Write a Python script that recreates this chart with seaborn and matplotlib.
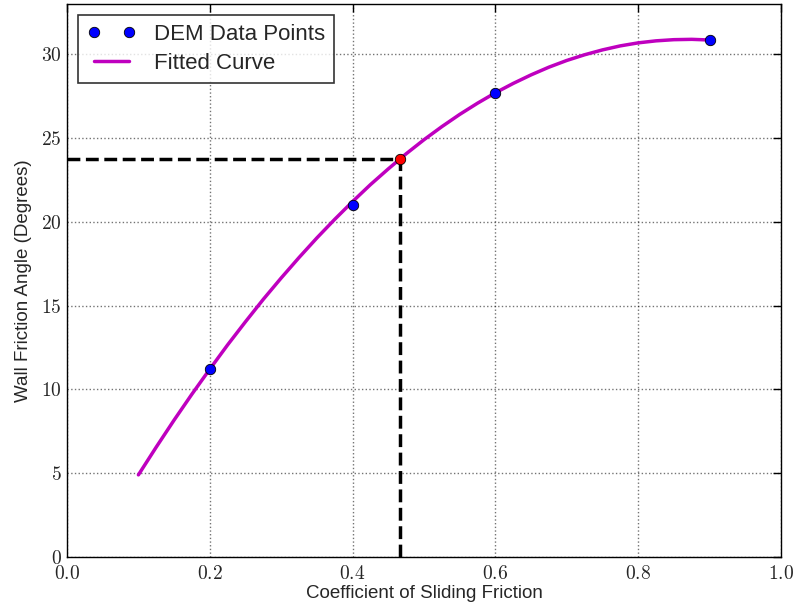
"""Wall friction angle vs coefficient of sliding friction."""

import matplotlib
matplotlib.use("Agg")
import matplotlib.pyplot as plt
from matplotlib.ticker import FuncFormatter, MultipleLocator
import pandas as pd
import seaborn as sns

# DEM simulation results
dem_mu = [0.2, 0.4, 0.6, 0.9]
dem_angle = [11.2, 21.0, 27.7, 30.85]

# fitted curve
fit_mu = [0.100, 0.125, 0.150, 0.175, 0.200, 0.225, 0.250, 0.275, 0.300,
          0.325, 0.350, 0.375, 0.400, 0.425, 0.450, 0.475, 0.500, 0.525,
          0.550, 0.575, 0.600, 0.625, 0.650, 0.675, 0.700, 0.725, 0.750,
          0.775, 0.800, 0.825, 0.850, 0.875, 0.900]
fit_angle = [4.90, 6.56, 8.17, 9.72, 11.21, 12.66, 14.04, 15.38, 16.65,
             17.87, 19.04, 20.15, 21.21, 22.22, 23.16, 24.06, 24.90, 25.68,
             26.41, 27.08, 27.70, 28.26, 28.77, 29.23, 29.63, 29.97, 30.26,
             30.50, 30.68, 30.80, 30.87, 30.89, 30.85]

# interpolated wall friction point
target_mu = 0.467
target_angle = 23.75

sns.set_style("white")
plt.rcParams['font.family'] = ['Liberation Sans', 'DejaVu Sans']
plt.rcParams['mathtext.fontset'] = 'cm'

dem_df = pd.DataFrame({'mu': dem_mu, 'angle': dem_angle})
fit_df = pd.DataFrame({'mu': fit_mu, 'angle': fit_angle})

fig = plt.figure(figsize=(7.94, 6.12), dpi=100)
ax = fig.add_axes([0.0844, 0.0899, 0.8992, 0.9036])

# dashed guide lines to the target point
ax.plot([0, target_mu], [target_angle, target_angle], 'k--', lw=2.5, zorder=3)
ax.plot([target_mu, target_mu], [0, target_angle], 'k--', lw=2.5, zorder=3)

sns.lineplot(data=fit_df, x='mu', y='angle', color='m', lw=2.5,
             label='Fitted Curve', ax=ax, zorder=4)
sns.lineplot(data=dem_df, x='mu', y='angle', color='b', ls='', marker='o',
             markersize=7.5, markeredgecolor='k', markeredgewidth=0.6,
             label='DEM Data Points', ax=ax, zorder=5)
ax.plot([target_mu], [target_angle], 'o', color='r', markersize=7.5,
        markeredgecolor='k', markeredgewidth=0.6, zorder=6)

ax.set_xlim(0, 1.0)
ax.set_ylim(0, 33)
ax.xaxis.set_major_locator(MultipleLocator(0.2))
ax.yaxis.set_major_locator(MultipleLocator(5))
ax.xaxis.set_major_formatter(FuncFormatter(lambda v, p: f'${v:.1f}$'))
ax.yaxis.set_major_formatter(FuncFormatter(lambda v, p: f'${v:.0f}$'))
ax.tick_params(direction='in', length=6, width=1, top=True, right=True,
               labelsize=14, color='k')
ax.tick_params(axis='x', pad=6)
ax.tick_params(axis='y', pad=4)
ax.grid(True, ls=':', color='k', lw=1, alpha=0.55)
for sp in ax.spines.values():
    sp.set_color('k')
    sp.set_linewidth(1)

ax.set_xlabel('Coefficient of Sliding Friction', fontsize=13.5, labelpad=1)
ax.set_ylabel('Wall Friction Angle (Degrees)', fontsize=13.5, labelpad=6)

# data points first in the legend
handles, labels = ax.get_legend_handles_labels()
order = [labels.index('DEM Data Points'), labels.index('Fitted Curve')]
leg = ax.legend([handles[i] for i in order], [labels[i] for i in order],
                loc='upper left', numpoints=2, fontsize=16, fancybox=False,
                frameon=True, handlelength=2.2, borderpad=0.4,
                labelspacing=0.35, edgecolor='k')
leg.get_frame().set_linewidth(1.2)

fig.savefig('out.png', dpi=100)
